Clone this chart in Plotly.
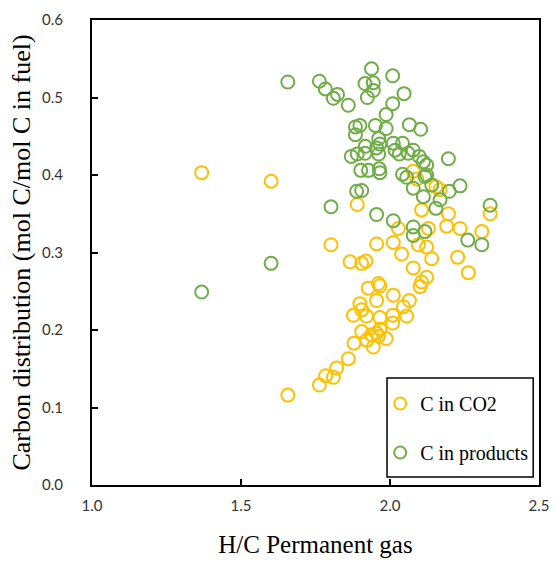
import plotly.graph_objects as go

co2_x = [1.368, 1.601, 1.657, 1.763, 1.784, 1.810, 1.821, 1.860, 1.879, 1.905, 1.922, 1.938,
         1.944, 1.961, 1.966, 1.987, 2.009, 1.955, 1.877, 1.921, 1.966, 2.009, 2.056, 1.899,
         1.905, 1.955, 2.011, 2.065, 2.045, 1.927, 1.961, 1.966, 2.123, 2.106, 2.101, 2.078,
         1.866, 1.905, 1.919, 2.039, 2.140, 2.227, 2.263, 1.802, 1.955, 2.011, 2.095, 2.123,
         2.028, 2.129, 2.190, 2.235, 2.308, 1.890, 2.106, 2.196, 2.336, 2.154, 2.168, 2.078,
         2.090]
co2_y = [0.403, 0.392, 0.116, 0.129, 0.141, 0.139, 0.151, 0.163, 0.183, 0.198, 0.187, 0.194,
         0.178, 0.192, 0.201, 0.189, 0.209, 0.196, 0.219, 0.218, 0.216, 0.219, 0.218, 0.234,
         0.226, 0.238, 0.245, 0.238, 0.230, 0.254, 0.260, 0.257, 0.268, 0.262, 0.256, 0.280,
         0.288, 0.286, 0.289, 0.298, 0.292, 0.294, 0.274, 0.310, 0.311, 0.313, 0.310, 0.307,
         0.331, 0.331, 0.334, 0.331, 0.327, 0.362, 0.355, 0.350, 0.350, 0.385, 0.381, 0.405,
         0.395]

prod_x = [1.368, 1.601, 1.657, 1.763, 1.783, 1.810, 1.824, 1.860, 1.938, 1.916, 1.944, 1.944,
          1.924, 2.009, 2.047, 2.009, 1.987, 1.951, 1.987, 1.884, 1.899, 1.884, 2.065, 2.103,
          1.962, 1.966, 2.011, 2.042, 1.917, 1.955, 2.078, 1.870, 1.890, 1.916, 1.962, 2.017,
          2.031, 2.061, 2.098, 2.112, 2.123, 2.196, 1.902, 1.928, 1.964, 1.966, 2.042, 2.123,
          2.056, 2.117, 2.078, 2.112, 2.140, 2.168, 2.154, 1.888, 1.905, 1.802, 1.955, 2.011,
          2.078, 2.078, 2.117, 2.199, 2.235, 2.336, 2.261, 2.308]
prod_y = [0.249, 0.286, 0.520, 0.521, 0.511, 0.499, 0.504, 0.490, 0.537, 0.518, 0.519, 0.509,
          0.500, 0.528, 0.505, 0.492, 0.478, 0.464, 0.460, 0.462, 0.464, 0.452, 0.465, 0.459,
          0.447, 0.440, 0.441, 0.441, 0.437, 0.435, 0.432, 0.424, 0.427, 0.428, 0.427, 0.432,
          0.427, 0.428, 0.424, 0.417, 0.413, 0.421, 0.406, 0.406, 0.408, 0.403, 0.401, 0.400,
          0.397, 0.398, 0.383, 0.372, 0.387, 0.368, 0.357, 0.379, 0.380, 0.359, 0.349, 0.341,
          0.333, 0.322, 0.327, 0.379, 0.386, 0.361, 0.316, 0.310]

x_ticks = [1.0, 1.5, 2.0, 2.5]
y_ticks = [0.0, 0.1, 0.2, 0.3, 0.4, 0.5, 0.6]

ORANGE = "#FFC000"
GREEN = "#70AD47"

fig = go.Figure()
fig.add_trace(go.Scatter(
    x=co2_x, y=co2_y, mode="markers", name="C in CO2", legendgroup="a",
    marker=dict(symbol="circle-open", size=13, color=ORANGE, line=dict(width=2, color=ORANGE)),
))
fig.add_trace(go.Scatter(
    x=prod_x, y=prod_y, mode="markers", name="C in products", legendgroup="b",
    marker=dict(symbol="circle-open", size=13, color=GREEN, line=dict(width=2, color=GREEN)),
))

axis_common = dict(
    showline=True, linecolor="black", linewidth=2, mirror=True,
    ticks="inside", ticklen=6, tickwidth=2, tickcolor="black",
    showgrid=False, zeroline=False, automargin=False,
    tickfont=dict(family="Lato", size=15, color="#333333"),
)

# legend frame drawn as a box in plot-fraction coordinates
fig.add_shape(type="rect", xref="x domain", yref="y domain",
              x0=0.660, x1=0.987, y0=0.017, y1=0.230,
              line=dict(color="black", width=1.5), fillcolor="white", layer="above")

fig.update_layout(
    width=555, height=561,
    margin=dict(l=92, r=16, t=20, b=76),
    paper_bgcolor="white", plot_bgcolor="white",
    showlegend=True,
    legend=dict(
        x=0.987, y=0.217, xanchor="right", yanchor="top",
        borderwidth=0, bgcolor="rgba(0,0,0,0)",
        font=dict(family="Liberation Serif", size=20, color="black"),
        tracegroupgap=20, itemsizing="constant",
    ),
    xaxis=dict(
        range=[1.0, 2.5], tickvals=x_ticks, ticktext=[f"{v:.1f}" for v in x_ticks],
        title=dict(text="H/C Permanent gas", font=dict(family="Liberation Serif", size=25, color="black"),
                   standoff=22),
        ticklabelstandoff=6,
        **axis_common,
    ),
    yaxis=dict(
        range=[0.0, 0.6], tickvals=y_ticks, ticktext=[f"{v:.1f}" for v in y_ticks],
        title=dict(text="Carbon distribution (mol C/mol C in fuel)",
                   font=dict(family="Liberation Serif", size=26, color="black"), standoff=4),
        ticklabelstandoff=24,
        **axis_common,
    ),
)

fig.write_html("out.html")
